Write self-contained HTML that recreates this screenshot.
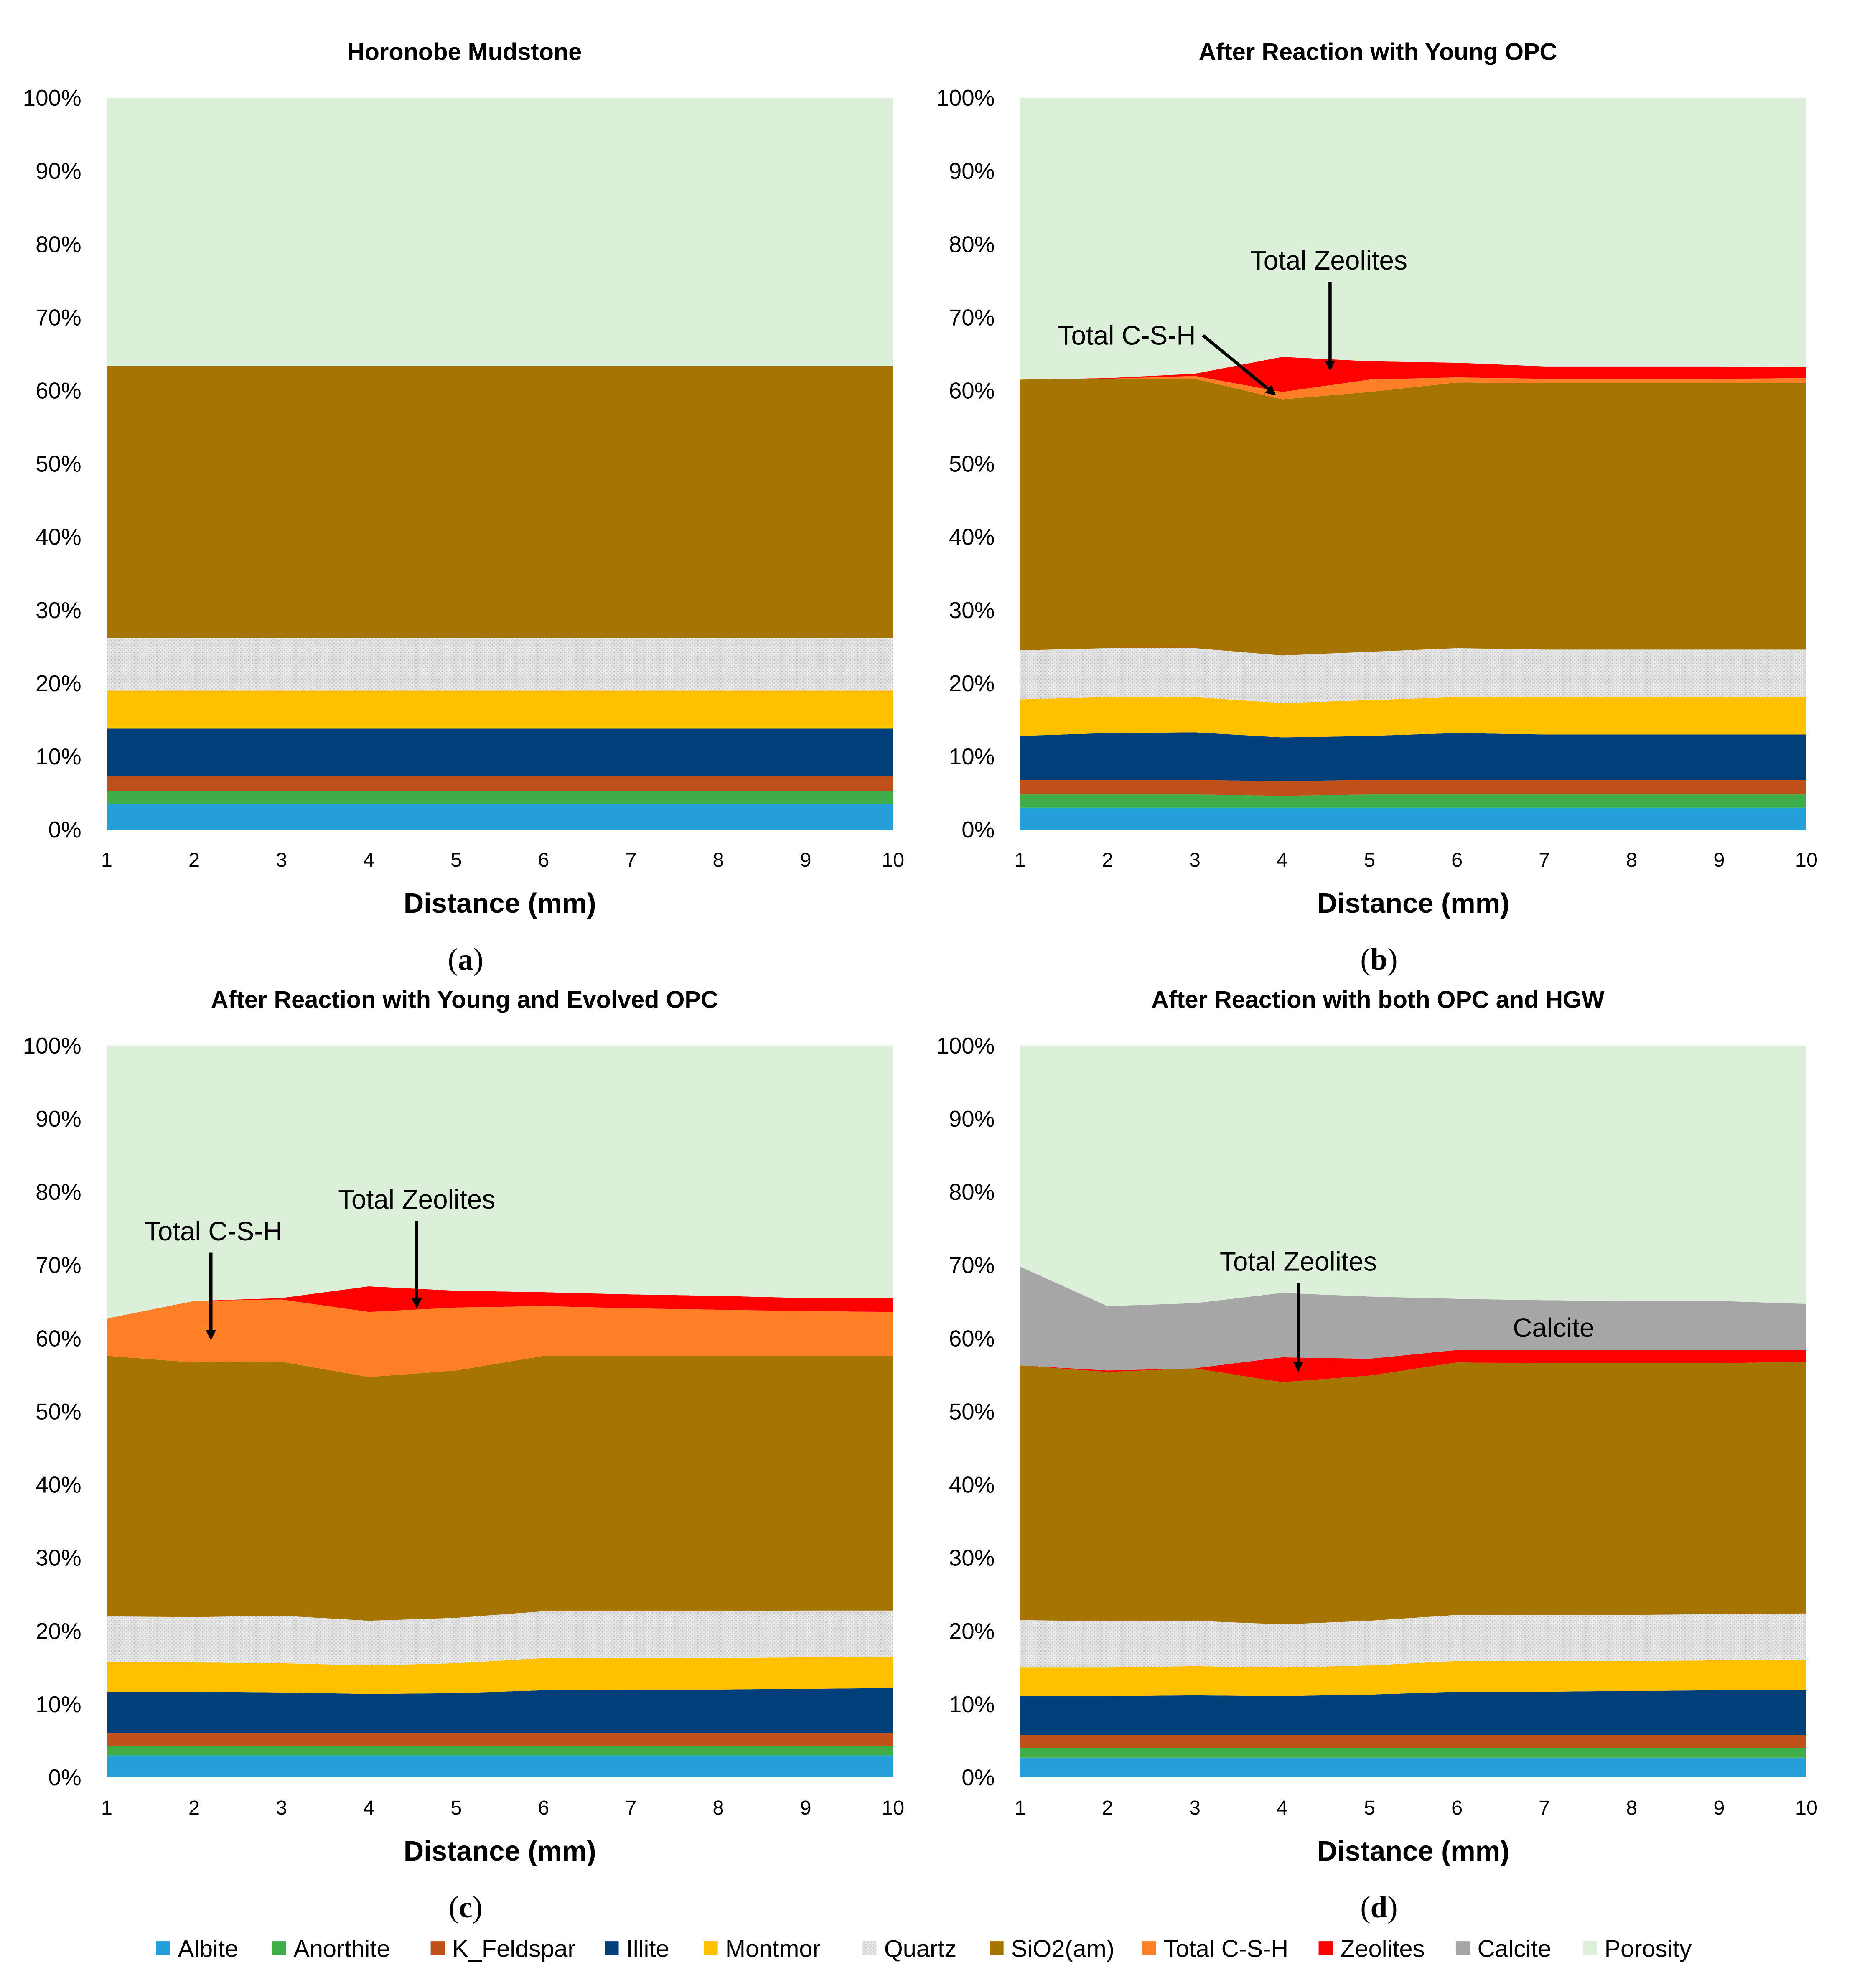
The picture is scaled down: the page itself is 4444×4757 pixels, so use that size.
<!DOCTYPE html>
<html><head><meta charset="utf-8"><style>
html,body{margin:0;padding:0;background:#fff;}
svg{display:block;font-family:"Liberation Sans",sans-serif;}
</style></head><body>
<svg id="chart" width="4444" height="4757" viewBox="0 0 1461.8 1564.8" xmlns="http://www.w3.org/2000/svg">
<defs>
<pattern id="qpat" width="3" height="3" patternUnits="userSpaceOnUse">
<rect width="3" height="3" fill="#e6e6e6"/><rect width="1" height="1" fill="#bdbdbd"/><rect x="1.5" y="1.5" width="1" height="1" fill="#c8c8c8"/>
</pattern>
<marker id="ah" markerWidth="8" markerHeight="8" refX="6" refY="4" orient="auto" markerUnits="userSpaceOnUse"><path d="M0,0 L8,4 L0,8 z" fill="#000"/></marker>
</defs>
<g id="root"></g>
</svg>
<script>
const distances = [1,2,3,4,5,6,7,8,9,10];
const yTicks = [0,10,20,30,40,50,60,70,80,90,100];
const mineralNames = ["Albite","Anorthite","K_Feldspar","Illite","Montmor","Quartz","SiO2(am)","Total C-S-H","Zeolites","Calcite","Porosity"];
const mineralColors = ["#259fd9","#3fae49","#c0501a","#003f7a","#ffc000","url(#qpat)","#a67400","#ff7f27","#ff0000","#a6a6a6","#dcefd9"];

// panel a
const aAlbite=[3.5,3.5,3.5,3.5,3.5,3.5,3.5,3.5,3.5,3.5];
const aAnorthite=[1.8,1.8,1.8,1.8,1.8,1.8,1.8,1.8,1.8,1.8];
const aKfeld=[2,2,2,2,2,2,2,2,2,2];
const aIllite=[6.5,6.5,6.5,6.5,6.5,6.5,6.5,6.5,6.5,6.5];
const aMontmor=[5.2,5.2,5.2,5.2,5.2,5.2,5.2,5.2,5.2,5.2];
const aQuartz=[7.2,7.2,7.2,7.2,7.2,7.2,7.2,7.2,7.2,7.2];
const aSio2=[37.2,37.2,37.2,37.2,37.2,37.2,37.2,37.2,37.2,37.2];
const aCsh=[0,0,0,0,0,0,0,0,0,0];
const aZeol=[0,0,0,0,0,0,0,0,0,0];
const aCalcite=[0,0,0,0,0,0,0,0,0,0];
// panel b
const bAlbite=[3,3,3,3,3,3,3,3,3,3];
const bAnorthite=[1.8,1.8,1.8,1.6,1.8,1.8,1.8,1.8,1.8,1.8];
const bKfeld=[2,2,2,2,2,2,2,2,2,2];
const bIllite=[6.0,6.4,6.5,6.0,6.0,6.4,6.2,6.2,6.2,6.2];
const bMontmor=[5.0,4.9,4.8,4.7,4.9,4.9,5.1,5.1,5.1,5.1];
const bQuartz=[6.7,6.7,6.7,6.5,6.6,6.7,6.5,6.5,6.5,6.5];
const bSio2=[37.0,36.8,36.8,35.0,35.5,36.3,36.4,36.4,36.4,36.4];
const bCsh=[0,0,0.4,1.0,1.7,0.7,0.6,0.6,0.6,0.7];
const bZeol=[0,0.1,0.3,4.8,2.5,2.0,1.7,1.7,1.7,1.5];
const bCalcite=[0,0,0,0,0,0,0,0,0,0];
// panel c
const cAlbite=[3,3,3,3,3,3,3,3,3,3];
const cAnorthite=[1.3,1.3,1.3,1.3,1.3,1.3,1.3,1.3,1.3,1.3];
const cKfeld=[1.7,1.7,1.7,1.7,1.7,1.7,1.7,1.7,1.7,1.7];
const cIllite=[5.7,5.7,5.6,5.4,5.5,5.9,6.0,6.0,6.1,6.2];
const cMontmor=[4.0,4.0,4.0,3.9,4.1,4.4,4.3,4.3,4.3,4.3];
const cQuartz=[6.3,6.2,6.5,6.1,6.2,6.4,6.4,6.4,6.4,6.3];
const cSio2=[35.6,34.8,34.7,33.3,33.8,34.9,34.9,34.9,34.8,34.8];
const cCsh=[5.1,8.4,8.5,8.9,8.6,6.8,6.5,6.3,6.1,6.0];
const cZeol=[0,0,0.2,3.5,2.3,1.9,1.9,1.9,1.8,1.9];
const cCalcite=[0,0,0,0,0,0,0,0,0,0];
// panel d
const dAlbite=[2.7,2.7,2.7,2.7,2.7,2.7,2.7,2.7,2.7,2.7];
const dAnorthite=[1.3,1.3,1.3,1.3,1.3,1.3,1.3,1.3,1.3,1.3];
const dKfeld=[1.8,1.8,1.8,1.8,1.8,1.8,1.8,1.8,1.8,1.8];
const dIllite=[5.3,5.3,5.4,5.3,5.5,5.9,5.9,6.0,6.1,6.1];
const dMontmor=[3.9,3.9,4.0,3.9,4.0,4.2,4.2,4.1,4.1,4.2];
const dQuartz=[6.5,6.3,6.2,5.9,6.1,6.3,6.3,6.3,6.3,6.3];
const dSio2=[34.8,34.1,34.5,33.1,33.5,34.5,34.4,34.4,34.3,34.4];
const dCsh=[0,0,0,0,0,0,0,0,0,0];
const dZeol=[0,0.2,0,3.4,2.3,1.7,1.8,1.8,1.8,1.6];
const dCalcite=[13.5,8.8,8.9,8.8,8.5,7.0,6.8,6.7,6.7,6.3];

const NS="http://www.w3.org/2000/svg";
const root=document.getElementById('root');
function mk(tag,attrs,parent){const e=document.createElementNS(NS,tag);for(const k in attrs)e.setAttribute(k,attrs[k]);(parent||root).appendChild(e);return e;}
function txt(s,x,y,size,anchor,weight,parent,family){const t=mk('text',{x:x,y:y,'font-size':size,'text-anchor':anchor,'font-weight':weight||'normal','dominant-baseline':'central',fill:'#000'},parent);if(family)t.setAttribute('font-family',family);t.textContent=s;return t;}

const panels=[
 {id:'a',title:'Horonobe Mudstone',x0:84,x1:703,y0:653,y1:77,series:[aAlbite,aAnorthite,aKfeld,aIllite,aMontmor,aQuartz,aSio2,aCsh,aZeol,aCalcite]},
 {id:'b',title:'After Reaction with Young OPC',x0:803,x1:1422,y0:653,y1:77,series:[bAlbite,bAnorthite,bKfeld,bIllite,bMontmor,bQuartz,bSio2,bCsh,bZeol,bCalcite]},
 {id:'c',title:'After Reaction with Young and Evolved OPC',x0:84,x1:703,y0:1399,y1:823,series:[cAlbite,cAnorthite,cKfeld,cIllite,cMontmor,cQuartz,cSio2,cCsh,cZeol,cCalcite]},
 {id:'d',title:'After Reaction with both OPC and HGW',x0:803,x1:1422,y0:1399,y1:823,series:[dAlbite,dAnorthite,dKfeld,dIllite,dMontmor,dQuartz,dSio2,dCsh,dZeol,dCalcite]}
];

panels.forEach(p=>{
 const g=mk('g',{});
 
 
 const xs=v=>p.x0+(v-1)/9*(p.x1-p.x0);
 const ys=v=>p.y0+v/100*(p.y1-p.y0);
 let cum=distances.map(()=>0);
 const layers=p.series.concat([null]);
 layers.forEach((ser,li)=>{
  const top=ser?cum.map((c,i)=>c+ser[i]):distances.map(()=>100);
  let d='M'+distances.map((dv,i)=>xs(dv)+','+ys(top[i])).join(' L');
  for(let i=distances.length-1;i>=0;i--)d+=' L'+xs(distances[i])+','+ys(cum[i]);
  d+='Z';
  const path=mk('path',{d:d,fill:mineralColors[li],stroke:'none'},g);
  
  
  cum=top;
 });
 const tt=txt(p.title,(p.x0+p.x1)/2-(p.x1-p.x0)*0.045,41,19,'middle','bold',g);
 tt.setAttribute('y',p.y1-36);
 
 
 yTicks.forEach(t=>{
  const l=txt(t+'%',p.x0-20,ys(t),18,'end','normal',g);
  
  
 });
 distances.forEach(dv=>{
  const l=txt(String(dv),xs(dv),p.y0+24,16,'middle','normal',g);
  
  
 });
 const at=txt('Distance  (mm)',(p.x0+p.x1)/2,p.y0+58,22,'middle','bold',g);
 
 
 const pl=mk('text',{x:(p.x0+p.x1)/2-27,y:p.y0+102,'font-size':24,'text-anchor':'middle','dominant-baseline':'central','font-family':'"Liberation Serif",serif'},g);
 pl.innerHTML='(<tspan font-weight="bold">'+p.id+'</tspan>)';
 
 
});

function note(s,x,y,ax1,ay1,ax2,ay2){
 const t=txt(s,x,y,21,'middle','normal');
 
 
 const l=mk('line',{x1:ax1,y1:ay1,x2:ax2,y2:ay2,stroke:'#000','stroke-width':2.5,'marker-end':'url(#ah)'});
 
 
}
note('Total Zeolites',1046,205,1047,222,1047,290);
note('Total C-S-H',887,264,947,264,1003,310);
note('Total C-S-H',168,969,166,986,166,1053);
note('Total Zeolites',328,944,328,961,328,1028);
note('Total Zeolites',1022,993,1022,1010,1022,1078);
const cal=txt('Calcite',1223,1045,21,'middle','normal');



const legendX=[123,214,339,476,554,679,779,899,1038,1146,1246];
const lg=mk('g',{});


mineralNames.forEach((n,i)=>{
 const e=mk('g',{},lg);
 
 
 mk('rect',{x:legendX[i],y:1528,width:11,height:11,fill:mineralColors[i]},e);
 txt(n,legendX[i]+17,1534,19,'start','normal',e);
});
</script>
</body></html>
